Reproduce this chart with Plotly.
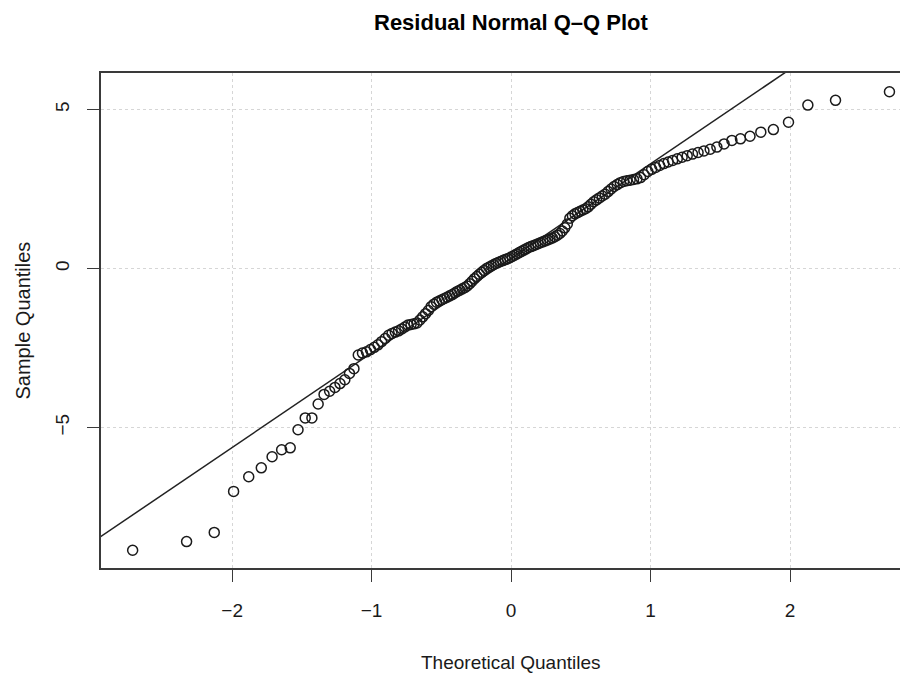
import numpy as np
import plotly.graph_objects as go
from statistics import NormalDist

# Sorted residuals (sample quantiles), n = 150
sample_quantiles = [
    -8.86, -8.59, -8.30, -7.01, -6.55, -6.27, -5.92, -5.70, -5.64, -5.07,
    -4.70, -4.70, -4.26, -3.96, -3.86, -3.74, -3.62, -3.50, -3.30, -3.15,
    -2.72, -2.66, -2.62, -2.55, -2.48, -2.40, -2.30, -2.20, -2.10, -2.04,
    -2.00, -1.96, -1.90, -1.84, -1.78, -1.76, -1.74, -1.71, -1.62, -1.52,
    -1.42, -1.32, -1.20, -1.12, -1.06, -1.02, -0.98, -0.94, -0.90, -0.86,
    -0.82, -0.77, -0.72, -0.68, -0.64, -0.60, -0.55, -0.48, -0.40, -0.32,
    -0.25, -0.18, -0.12, -0.06, 0.00, 0.04, 0.08, 0.12, 0.16, 0.19,
    0.22, 0.25, 0.28, 0.31, 0.34, 0.38, 0.42, 0.46, 0.50, 0.54,
    0.58, 0.62, 0.66, 0.69, 0.72, 0.75, 0.78, 0.81, 0.84, 0.87,
    0.90, 0.93, 0.96, 1.00, 1.05, 1.10, 1.18, 1.28, 1.40, 1.58,
    1.66, 1.72, 1.76, 1.80, 1.84, 1.88, 1.94, 2.02, 2.10, 2.16,
    2.22, 2.28, 2.34, 2.42, 2.50, 2.58, 2.64, 2.70, 2.74, 2.76,
    2.78, 2.80, 2.82, 2.86, 2.95, 3.05, 3.12, 3.18, 3.24, 3.30,
    3.35, 3.40, 3.45, 3.50, 3.55, 3.60, 3.65, 3.70, 3.75, 3.82,
    3.92, 4.03, 4.08, 4.16, 4.29, 4.37, 4.60, 5.14, 5.29, 5.56,
]

x_ticks = [-2, -1, 0, 1, 2]
y_ticks = [-5, 0, 5]

title_text = "Residual Normal Q\u2013Q Plot"
x_title = "Theoretical Quantiles"
y_title = "Sample Quantiles"

# qqnorm: theoretical quantiles via ppoints (a = 0.5)
y = np.sort(np.array(sample_quantiles))
n = len(y)
nd = NormalDist()
theo = np.array([nd.inv_cdf((i - 0.5) / n) for i in range(1, n + 1)])

# qqline: through first and third quartiles
q1, q3 = np.quantile(y, [0.25, 0.75])
t1, t3 = nd.inv_cdf(0.25), nd.inv_cdf(0.75)
slope = (q3 - q1) / (t3 - t1)
intercept = q1 - slope * t1
span = theo.max() - theo.min()
lx = np.array([theo.min() - 0.1 * span, theo.max() + 0.1 * span])
ly = intercept + slope * lx

FONT = "Liberation Sans, Arial, sans-serif"
INK = "#1a1a1a"

# page body has an 8px default margin: the figure starts at (8, 8)
W, H = 900, 665
L, T, B = 93, 65, 105
PH = H - T - B  # plot height in px

fig = go.Figure()
fig.add_trace(go.Scatter(
    x=lx, y=ly, mode="lines",
    line=dict(color="#222222", width=1.5),
    hoverinfo="skip", showlegend=False,
))
fig.add_trace(go.Scatter(
    x=theo, y=y, mode="markers",
    marker=dict(symbol="circle-open", size=10, color="#1a1a1a",
                line=dict(width=1.5, color="#1a1a1a")),
    showlegend=False, cliponaxis=True,
))

fig.update_layout(
    width=W, height=H,
    margin=dict(l=L, r=0, t=T, b=B, pad=0),
    paper_bgcolor="white", plot_bgcolor="white",
    font=dict(family=FONT, size=18, color=INK),
    xaxis=dict(
        range=[-2.94, 2.846], tickvals=x_ticks,
        showgrid=True, gridcolor="#d6d6d6", griddash="dot", gridwidth=1,
        zeroline=False, showline=True, linecolor="#3a3a3a", linewidth=1.6,
        mirror=True, ticks="outside", ticklen=12, tickwidth=1.4,
        tickcolor="#3a3a3a", ticklabelstandoff=12,
        tickfont=dict(size=19, color=INK, family=FONT),
    ),
    yaxis=dict(
        range=[-9.42, 6.15], tickvals=y_ticks,
        showgrid=True, gridcolor="#d6d6d6", griddash="dot", gridwidth=1,
        zeroline=False, showline=True, linecolor="#3a3a3a", linewidth=1.6,
        ticks="outside", ticklen=12, tickwidth=1.4, tickcolor="#3a3a3a",
        tickangle=-90, ticklabelstandoff=11,
        tickfont=dict(size=19, color=INK, family=FONT),
    ),
    annotations=[
        dict(text="<b>" + title_text + "</b>", xref="x", yref="paper",
             x=0, y=(H - B - 14) / PH, xanchor="center", yanchor="middle",
             showarrow=False, font=dict(size=22, color="black", family=FONT)),
        dict(text=x_title, xref="x", yref="paper",
             x=0, y=(H - B - 654) / PH, xanchor="center", yanchor="middle",
             showarrow=False, font=dict(size=19, color=INK, family=FONT)),
        dict(text=y_title, xref="paper", yref="paper",
             x=(14 - L) / (W - L), y=0.5, xanchor="center", yanchor="middle",
             textangle=-90, showarrow=False,
             font=dict(size=20, color=INK, family=FONT)),
    ],
)

fig.write_html("out.html")
